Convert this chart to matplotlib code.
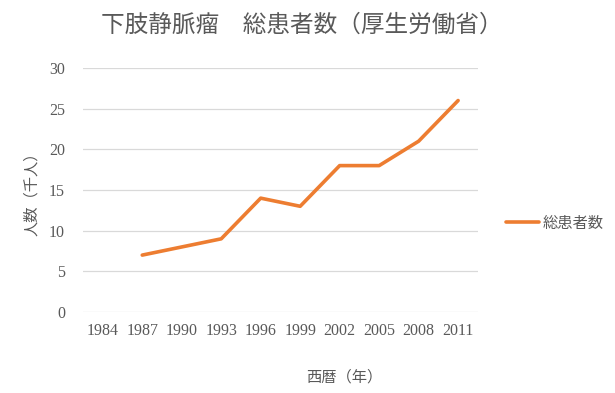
import numpy as np
import matplotlib.pyplot as plt

plt.rcParams['font.family'] = ['Noto Sans CJK JP', 'DejaVu Sans']

# data (1984 has no value)
years = ['1984', '1987', '1990', '1993', '1996', '1999', '2002', '2005', '2008', '2011']
patients = [np.nan, 7, 8, 9, 14, 13, 18, 18, 21, 26]

txt = '#595959'

fig = plt.figure(figsize=(6.15, 3.93), dpi=100)
ax = fig.add_axes([0.135, 0.206, 0.642, 0.621])

x = np.arange(len(years))
ax.plot(x, patients, color='#ED7D31', lw=2.6, solid_capstyle='round', label='総患者数')

ax.set_xlim(-0.5, len(years) - 0.5)
ax.set_ylim(0, 30)
ax.set_yticks(range(0, 31, 5))
ax.set_xticks(x)
ax.set_xticklabels(years)
ax.grid(axis='y', color='#D9D9D9', lw=0.9)
ax.set_axisbelow(True)
for s in ax.spines.values():
    s.set_visible(False)
ax.tick_params(length=0, colors=txt, labelsize=11.5)
ax.tick_params(axis='y', pad=13)
ax.tick_params(axis='x', pad=8)
for lab in ax.get_xticklabels() + ax.get_yticklabels():
    lab.set_family(['Liberation Serif', 'DejaVu Serif'])

fig.text(0.49, 0.935, '下肢静脈瘤　総患者数（厚生労働省）', ha='center', va='center',
         fontsize=17, color=txt)
fig.text(0.052, 0.515, '人数（千人）', rotation=90, ha='center', va='center',
         fontsize=11, color=txt)
fig.text(0.56, 0.04, '西暦（年）', ha='center', va='center', fontsize=11, color=txt)

leg = fig.legend(loc='center left', bbox_to_anchor=(0.8, 0.432), frameon=False,
                 fontsize=11, handlelength=2.2, handletextpad=0.2)
for t in leg.get_texts():
    t.set_color(txt)

fig.savefig('out.png', dpi=100)
